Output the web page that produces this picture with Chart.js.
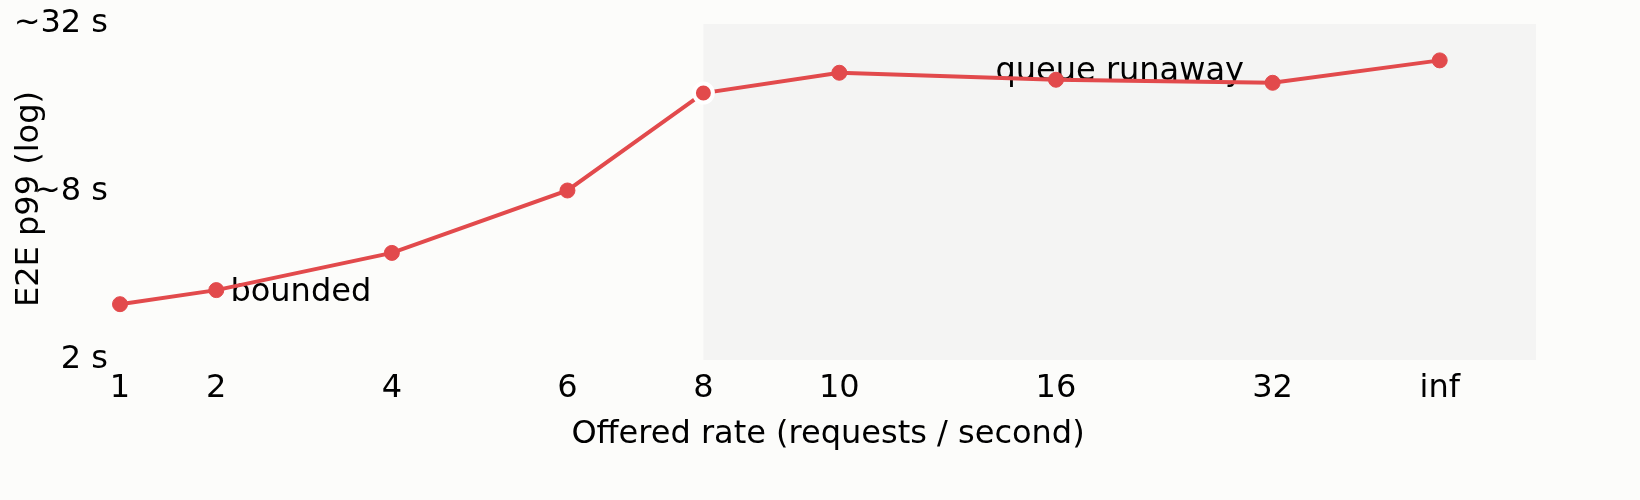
<!DOCTYPE html>
<html>
<head>
<meta charset="utf-8">
<script src="https://cdn.jsdelivr.net/npm/chart.js@4/dist/chart.umd.min.js"></script>
<style>
  html, body { margin: 0; padding: 0; background: #fcfcfa; }
  canvas { display: block; }
</style>
</head>
<body>
<canvas id="c" width="1640" height="500"></canvas>
<script>
// ---- data ----
const rateLabels    = ['1', '2', '4', '6', '8', '10', '16', '32', 'inf'];
const ratePositions = [0, 0.68, 1.92, 3.16, 4.12, 5.08, 6.61, 8.14, 9.32];
const p99Seconds    = [3.17, 3.56, 4.84, 8.1, 18.1, 21.4, 20.2, 19.7, 23.7];
const yTickValues   = [2, 8, 32];
const yTickLabels   = ['2 s', '~8 s', '~32 s'];
const runawayIndex  = 4;          // shaded "runaway" region starts at rate 8
const noteTexts     = ['bounded', 'queue runaway'];
const noteX         = [0.78, 7.06];
const noteY         = [3.48, 21.6];
const noteAlign     = ['left', 'center'];

// ---- style ----
const RED = '#e24a4c';
const INK = '#000000';
const FONT = { family: 'DejaVu Sans', size: 32 };

const shadePlugin = {
  id: 'shade',
  beforeDatasetsDraw(chart) {
    const { ctx, chartArea, scales } = chart;
    const x0 = scales.x.getPixelForValue(ratePositions[runawayIndex]);
    ctx.save();
    ctx.fillStyle = '#f4f4f3';
    ctx.fillRect(x0, chartArea.top, chartArea.right - x0, chartArea.bottom - chartArea.top);
    ctx.font = `${FONT.size}px ${FONT.family}`;
    ctx.fillStyle = INK;
    ctx.textBaseline = 'middle';
    noteTexts.forEach((t, i) => {
      ctx.textAlign = noteAlign[i];
      ctx.fillText(t, scales.x.getPixelForValue(noteX[i]), scales.y.getPixelForValue(noteY[i]));
    });
    ctx.restore();
  }
};

const yTitlePlugin = {
  id: 'yTitle',
  afterDraw(chart) {
    const { ctx, chartArea } = chart;
    ctx.save();
    ctx.translate(30, (chartArea.top + chartArea.bottom) / 2 + 7);
    ctx.rotate(-Math.PI / 2);
    ctx.font = `${FONT.size}px ${FONT.family}`;
    ctx.fillStyle = INK;
    ctx.textAlign = 'center';
    ctx.textBaseline = 'middle';
    ctx.fillText('E2E p99 (log)', 0, 0);
    ctx.restore();
  }
};

new Chart(document.getElementById('c'), {
  type: 'line',
  data: {
    datasets: [{
      data: ratePositions.map((x, i) => ({ x, y: p99Seconds[i] })),
      borderColor: RED,
      borderWidth: 4,
      backgroundColor: RED,
      pointBackgroundColor: RED,
      pointBorderColor: rateLabels.map((_, i) => i === runawayIndex ? '#ffffff' : RED),
      pointBorderWidth: rateLabels.map((_, i) => i === runawayIndex ? 4 : 1),
      pointRadius: rateLabels.map((_, i) => i === runawayIndex ? 9.5 : 7.5),
      tension: 0,
      fill: false,
      clip: false
    }]
  },
  options: {
    responsive: false,
    animation: false,
    devicePixelRatio: 1,
    layout: { padding: { left: 16, right: 104, top: 24, bottom: 43 } },
    plugins: { legend: { display: false }, tooltip: { enabled: false } },
    scales: {
      x: {
        type: 'linear',
        min: 0,
        max: 10,
        grid: { display: false, drawTicks: false },
        border: { display: false },
        afterBuildTicks: s => { s.ticks = ratePositions.map(v => ({ value: v })); },
        afterFit: s => { s.height = 97; },
        ticks: {
          padding: 9,
          autoSkip: false,
          maxRotation: 0,
          font: FONT,
          color: INK,
          callback: (v, i) => rateLabels[i]
        },
        title: {
          display: true,
          text: 'Offered rate (requests / second)',
          font: FONT,
          color: INK,
          padding: { top: 0, bottom: 3 }
        }
      },
      y: {
        type: 'logarithmic',
        min: 2,
        max: 32,
        grid: { display: false, drawTicks: false },
        border: { display: false },
        afterBuildTicks: s => { s.ticks = yTickValues.map(v => ({ value: v })); },
        afterFit: s => { s.width = 104; s.paddingTop = 0; s.paddingBottom = 0; },
        ticks: {
          padding: 12,
          autoSkip: false,
          font: FONT,
          color: INK,
          callback: (v, i) => yTickLabels[i]
        }
      }
    }
  },
  plugins: [shadePlugin, yTitlePlugin]
});
</script>
</body>
</html>
